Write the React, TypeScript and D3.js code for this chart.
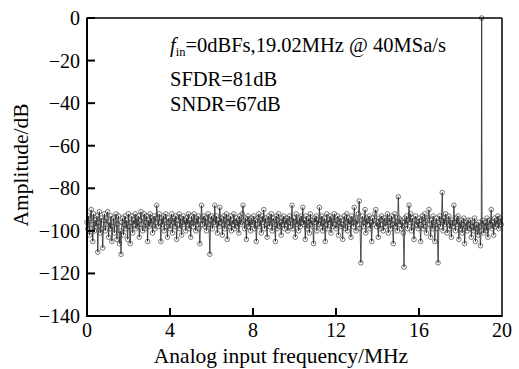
import React from "react";
import * as d3 from "d3";

const noiseDb: number[] = [
  -96, -99, -93, -102, -94, -90, -97, -105, -92, -100, -95, -98, -93, -110, -96, -91, -101, -94, -99, -108,
  -95, -92, -100, -97, -94, -91, -103, -96, -99, -93, -105, -98, -94, -101, -95, -92, -104, -97, -93, -106,
  -100, -111, -96, -94, -102, -97, -93, -99, -95, -104, -92, -98, -106, -96, -93, -101, -95, -97, -92, -99,
  -94, -98, -93, -103, -95, -91, -97, -100, -94, -92, -99, -96, -93, -105, -95, -98, -92, -97, -94, -101,
  -95, -93, -99, -96, -88, -94, -98, -92, -96, -105, -94, -97, -93, -100, -95, -92, -98, -103, -94, -96,
  -99, -95, -92, -101, -96, -94, -98, -93, -104, -97, -95, -92, -99, -94, -102, -96, -93, -97, -95, -100,
  -94, -97, -92, -99, -95, -103, -93, -96, -98, -92, -95, -100, -94, -97, -93, -99, -106, -95, -88, -97,
  -95, -93, -98, -94, -100, -96, -92, -97, -111, -95, -93, -99, -94, -96, -88, -97, -93, -101, -95, -98,
  -89, -96, -94, -102, -97, -93, -99, -95, -92, -104, -96, -94, -98, -93, -100, -95, -97, -92, -99, -96,
  -94, -98, -95, -101, -93, -97, -96, -92, -88, -95, -99, -94, -104, -96, -93, -98, -95, -100, -94, -97,
  -96, -93, -99, -95, -105, -97, -94, -92, -98, -95, -101, -93, -96, -90, -99, -94, -97, -103, -95, -93,
  -98, -95, -92, -100, -96, -94, -97, -105, -93, -99, -95, -92, -98, -96, -102, -94, -97, -93, -99, -95,
  -97, -94, -100, -96, -93, -98, -95, -88, -99, -94, -96, -103, -92, -97, -95, -100, -94, -98, -93, -96,
  -89, -97, -95, -104, -93, -99, -96, -94, -101, -92, -97, -95, -98, -106, -94, -96, -93, -100, -95, -97,
  -89, -95, -98, -93, -100, -96, -94, -105, -97, -92, -99, -95, -96, -93, -101, -94, -98, -95, -92, -97,
  -99, -95, -93, -102, -96, -94, -98, -97, -104, -95, -93, -99, -96, -92, -100, -94, -97, -95, -103, -93,
  -96, -98, -89, -94, -100, -95, -97, -92, -86, -99, -115, -95, -93, -98, -96, -90, -101, -94, -97, -95,
  -93, -99, -96, -105, -94, -97, -95, -92, -90, -98, -96, -103, -94, -99, -95, -93, -97, -100, -94, -96,
  -98, -95, -92, -101, -96, -94, -99, -93, -97, -106, -95, -92, -98, -96, -100, -84, -94, -97, -95, -99,
  -96, -101, -117, -94, -97, -93, -99, -95, -88, -96, -92, -100, -94, -98, -104, -95, -93, -97, -96, -99,
  -94, -97, -105, -95, -93, -99, -96, -92, -98, -101, -95, -94, -90, -97, -103, -95, -99, -93, -96, -105,
  -97, -94, -99, -115, -96, -93, -98, -95, -82, -100, -94, -97, -92, -96, -101, -95, -93, -99, -96, -103,
  -95, -98, -88, -96, -100, -94, -97, -93, -104, -96, -99, -95, -101, -97, -94, -106, -98, -96, -100, -95,
  -97, -99, -95, -103, -98, -96, -100, -94, -105, -97, -99, -102, -96, -98, -107, -100, -97, -95, -101, -98,
  -96, -100, -94, -103, -98, -95, -97, -90, -99, -96, -102, -94, -98, -95, -97, -93, -99, -96, -94, -97,
];
const binStepMHz = 0.04;
const signalFreqMHz = 19.02;
const signalDb = 0;

const xTicks = [0, 4, 8, 12, 16, 20];
const yTicks = [0, -20, -40, -60, -80, -100, -120, -140];

const W = 519;
const H = 369;
const L = 87;
const R = 502;
const T = 18;
const B = 316;

const serif = "'Liberation Serif', 'Times New Roman', serif";

export default function App() {
  const x = d3.scaleLinear().domain([0, 20]).range([L, R]);
  const y = d3.scaleLinear().domain([-140, 0]).range([B, T]);

  const pts: { f: number; a: number }[] = noiseDb.map((a, i) => ({ f: i * binStepMHz, a }));
  pts.push({ f: signalFreqMHz, a: signalDb });
  pts.sort((p, q) => p.f - q.f);

  const line = d3
    .line<{ f: number; a: number }>()
    .x((d) => x(d.f))
    .y((d) => y(d.a));

  const fmt = (v: number) => (v < 0 ? "\u2212" + Math.abs(v) : String(v));

  return (
    <div style={{ position: "absolute", left: 0, top: 0 }}>
      <svg width={W} height={H} style={{ display: "block", background: "#fff" }}>
        <rect x={0} y={0} width={W} height={H} fill="#fff" />
        {/* data */}
        <path d={line(pts) || ""} fill="none" stroke="#111" strokeWidth={0.7} />
        {pts.map((p, i) => (
          <circle
            key={i}
            cx={x(p.f)}
            cy={y(p.a)}
            r={2.3}
            fill="none"
            stroke="#333"
            strokeWidth={0.65}
          />
        ))}
        {/* frame */}
        <line x1={L} x2={R} y1={T} y2={T} stroke="#000" strokeWidth={1.5} />
        <line x1={R} x2={R} y1={T} y2={B} stroke="#000" strokeWidth={1.5} />
        <line x1={L} x2={L} y1={T - 0.5} y2={B + 1} stroke="#000" strokeWidth={2} />
        <line x1={L - 1} x2={R + 0.75} y1={B} y2={B} stroke="#000" strokeWidth={2} />
        {/* y ticks */}
        {yTicks.map((v) => (
          <g key={"y" + v}>
            <line x1={L} x2={L + 8} y1={y(v)} y2={y(v)} stroke="#000" strokeWidth={2} />
            <text
              x={L - 7}
              y={y(v)}
              dy="0.35em"
              textAnchor="end"
              fontFamily={serif}
              fontSize={20}
              fill="#000"
            >
              {fmt(v)}
            </text>
          </g>
        ))}
        {/* x ticks */}
        {xTicks.map((v) => (
          <g key={"x" + v}>
            {v > 0 && v < 20 && (
              <line x1={x(v)} x2={x(v)} y1={B} y2={B - 8} stroke="#000" strokeWidth={2} />
            )}
            <text
              x={x(v)}
              y={B + 21}
              textAnchor="middle"
              fontFamily={serif}
              fontSize={20}
              fill="#000"
            >
              {v}
            </text>
          </g>
        ))}
        {/* axis titles */}
        <text
          x={281}
          y={363}
          textAnchor="middle"
          fontFamily={serif}
          fontSize={21.5}
          fill="#000"
        >
          Analog input frequency/MHz
        </text>
        <text
          transform={`translate(28, ${(T + B) / 2 - 2}) rotate(-90)`}
          textAnchor="middle"
          fontFamily={serif}
          fontSize={21.5}
          fill="#000"
        >
          Amplitude/dB
        </text>
        {/* annotations */}
        <text x={170} y={52} fontFamily={serif} fontSize={20.5} fill="#000">
          <tspan fontStyle="italic">f</tspan>
          <tspan fontSize={12.5} dy={4}>in</tspan>
          <tspan dy={-4}>=0dBFs,19.02MHz @ 40MSa/s</tspan>
        </text>
        <text x={170} y={86} fontFamily={serif} fontSize={20.5} fill="#000">
          SFDR=81dB
        </text>
        <text x={170} y={111} fontFamily={serif} fontSize={20.5} fill="#000">
          SNDR=67dB
        </text>
      </svg>
    </div>
  );
}
